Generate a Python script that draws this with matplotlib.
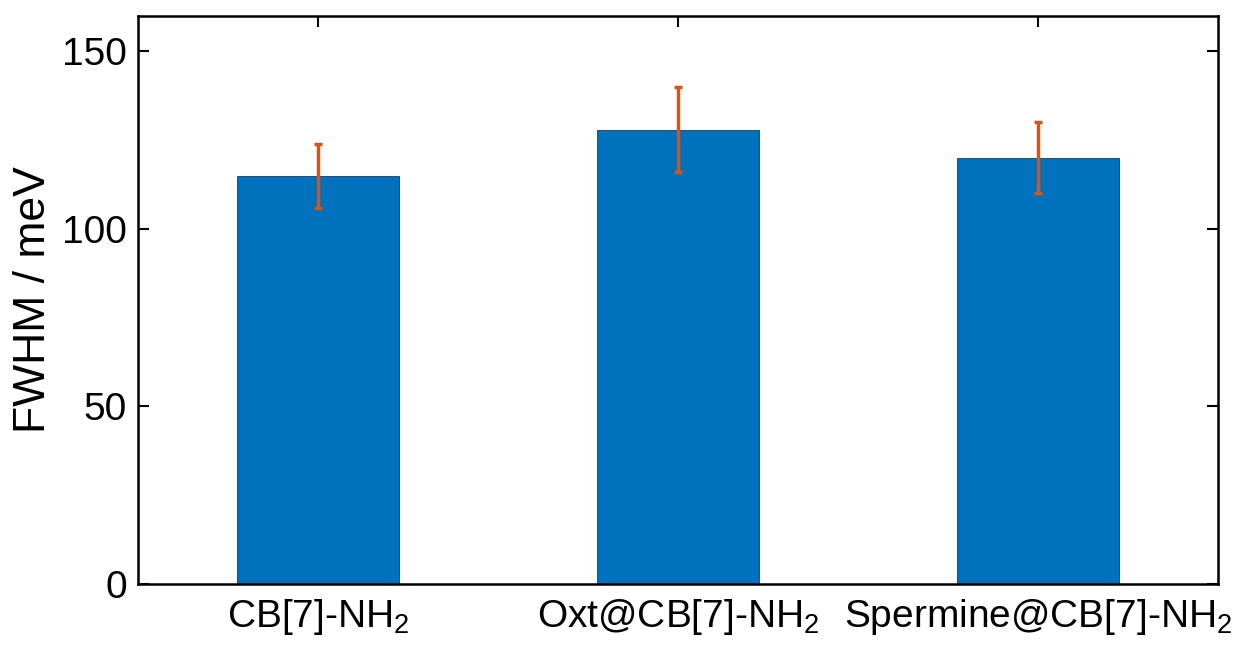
import matplotlib
matplotlib.use("Agg")
import matplotlib.pyplot as plt

categories = ["CB[7]-NH$_2$", "Oxt@CB[7]-NH$_2$", "Spermine@CB[7]-NH$_2$"]
fwhm = [115, 128, 120]
err = [9, 12, 10]

plt.rcParams['font.family'] = ['Liberation Sans', 'DejaVu Sans']
plt.rcParams['mathtext.fontset'] = 'custom'
plt.rcParams['mathtext.rm'] = 'Liberation Sans'
plt.rcParams['mathtext.it'] = 'Liberation Sans'
plt.rcParams['mathtext.default'] = 'regular'

fig = plt.figure(figsize=(12.47, 6.59), dpi=100)
ax = fig.add_axes([0.1107, 0.1138, 0.866, 0.862])
x = list(range(1, len(fwhm) + 1))
ax.bar(x, fwhm, width=0.45, color='#0072BD', edgecolor='#1a3a5a', linewidth=0.6, zorder=2)
ax.errorbar(x, fwhm, yerr=err, fmt='none', ecolor='#D95319', elinewidth=2.5, capsize=3, capthick=2.5, zorder=3)
ax.set_xlim(0.5, 3.5)
ax.set_ylim(0, 160)
ax.set_yticks([0, 50, 100, 150])
ax.set_xticks(x)
ax.set_xticklabels(categories)
ax.tick_params(direction='in', top=True, right=True, length=8, width=1.5, labelsize=28)
ax.tick_params(axis='x', pad=9)
ax.tick_params(axis='y', pad=8)
for s in ax.spines.values():
    s.set_linewidth(1.8)
ax.set_ylabel('FWHM / meV', fontsize=32, labelpad=6)
fig.savefig('out.png', dpi=100)
